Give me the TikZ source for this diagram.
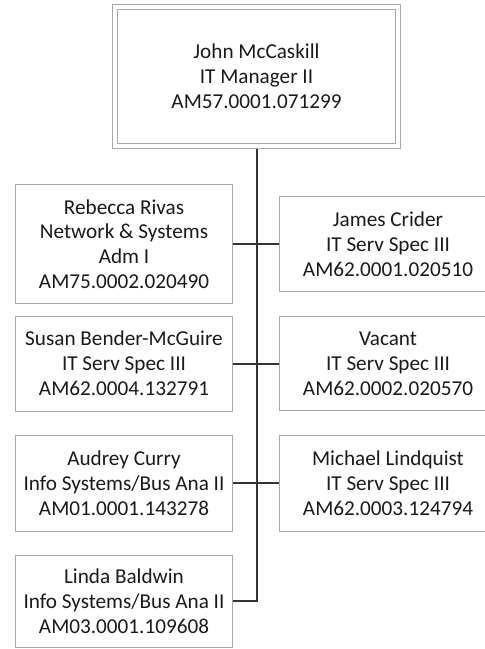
\documentclass[tikz,border=0pt]{standalone}
\usepackage{fontspec}
\setmainfont{Carlito}
\definecolor{boxline}{HTML}{A8A8A8}
\definecolor{linkline}{HTML}{333333}
\definecolor{ink}{HTML}{1A1A1A}
\tikzset{
	post/.style={draw=boxline, line width=.8pt, align=center, text=ink, inner sep=0pt,
		font=\fontsize{21.2}{24.8}\selectfont, minimum width=217pt},
	head/.style={post, double, double distance=4.5pt, minimum width=283pt, minimum height=139pt, outer sep=3pt},
	link/.style={draw=linkline, line width=2pt}
}
\begin{document}
\begin{tikzpicture}[x=1pt,y=-1pt]
	\useasboundingbox (0,0) rectangle (485,649);
	\clip (0,0) rectangle (485,649);

	\node [head] (john) at (256.5,76.5) {John McCaskill\\IT Manager II\\AM57.0001.071299};

	\node [post, minimum height=119pt] (rebecca) at (124,244) {Rebecca Rivas\\Network \& Systems\\Adm I\\AM75.0002.020490};
	\node [post, minimum height=95pt] (susan) at (124,363.5) {Susan Bender-McGuire\\IT Serv Spec III\\AM62.0004.132791};
	\node [post, minimum height=96pt] (audrey) at (124,483) {Audrey Curry\\Info Systems/Bus Ana II\\AM01.0001.143278};
	\node [post, minimum height=92pt] (linda) at (124,601) {Linda Baldwin\\Info Systems/Bus Ana II\\AM03.0001.109608};

	\node [post, minimum height=95pt] (james) at (388,244) {James Crider\\IT Serv Spec III\\AM62.0001.020510};
	\node [post, minimum height=94pt] (vacant) at (388,363.5) {Vacant\\IT Serv Spec III\\AM62.0002.020570};
	\node [post, minimum height=96pt] (michael) at (388,483) {Michael Lindquist\\IT Serv Spec III\\AM62.0003.124794};

	\draw [link] (john.south) |- (linda.east);
	\draw [link] (rebecca.east) -- (james.west);
	\draw [link] (susan.east) -- (vacant.west);
	\draw [link] (audrey.east) -- (michael.west);
\end{tikzpicture}
\end{document}
